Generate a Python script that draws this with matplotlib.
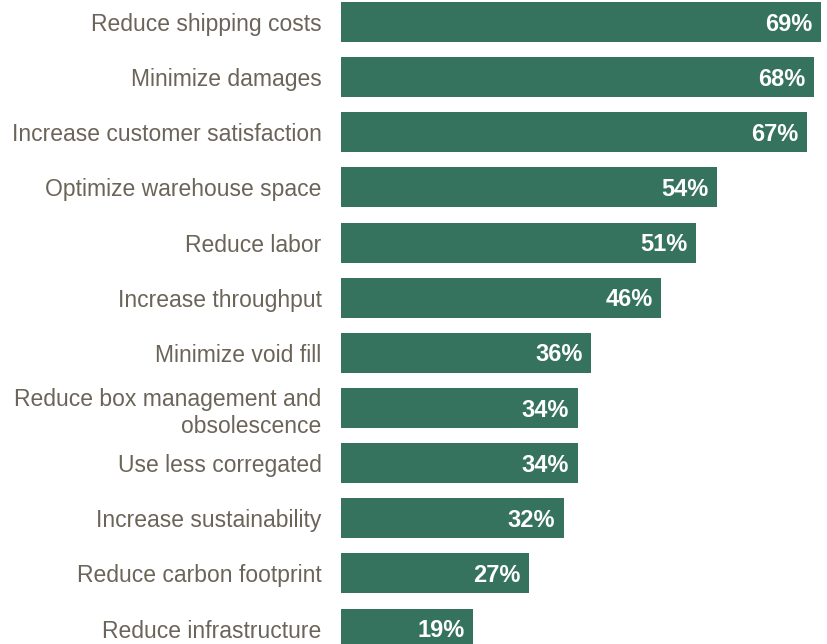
import matplotlib.pyplot as plt

plt.rcParams['font.family'] = ['Liberation Sans', 'DejaVu Sans']

goals = [
    "Reduce shipping costs",
    "Minimize damages",
    "Increase customer satisfaction",
    "Optimize warehouse space",
    "Reduce labor",
    "Increase throughput",
    "Minimize void fill",
    "Reduce box management and\nobsolescence",
    "Use less corregated",
    "Increase sustainability",
    "Reduce carbon footprint",
    "Reduce infrastructure",
]
share = [69, 68, 67, 54, 51, 46, 36, 34, 34, 32, 27, 19]

bar_color = "#35735F"
label_color = "#6B6459"

fig = plt.figure(figsize=(8.28, 6.44), dpi=100)
ax = fig.add_axes([341 / 828, 0, 1 - 341 / 828, 1])

pos = list(range(len(goals)))
ax.barh(pos, share, height=0.725, color=bar_color)

# percentage labels sit inside the bar ends
for y, v in zip(pos, share):
    ax.annotate(f"{v}%", xy=(v, y), xytext=(-6, -1.5), textcoords="offset points",
                ha="right", va="center", color="white", fontsize=17,
                fontweight="bold")

ax.set_xlim(0, 70)
ax.set_ylim(11.28, -0.4)
ax.set_yticks(pos)
ax.set_yticklabels(goals, fontsize=16.5, color=label_color, linespacing=1.25)
ax.tick_params(axis="y", length=0, pad=14)
ax.set_xticks([])
for s in ax.spines.values():
    s.set_visible(False)

plt.savefig("out.png", dpi=100)
